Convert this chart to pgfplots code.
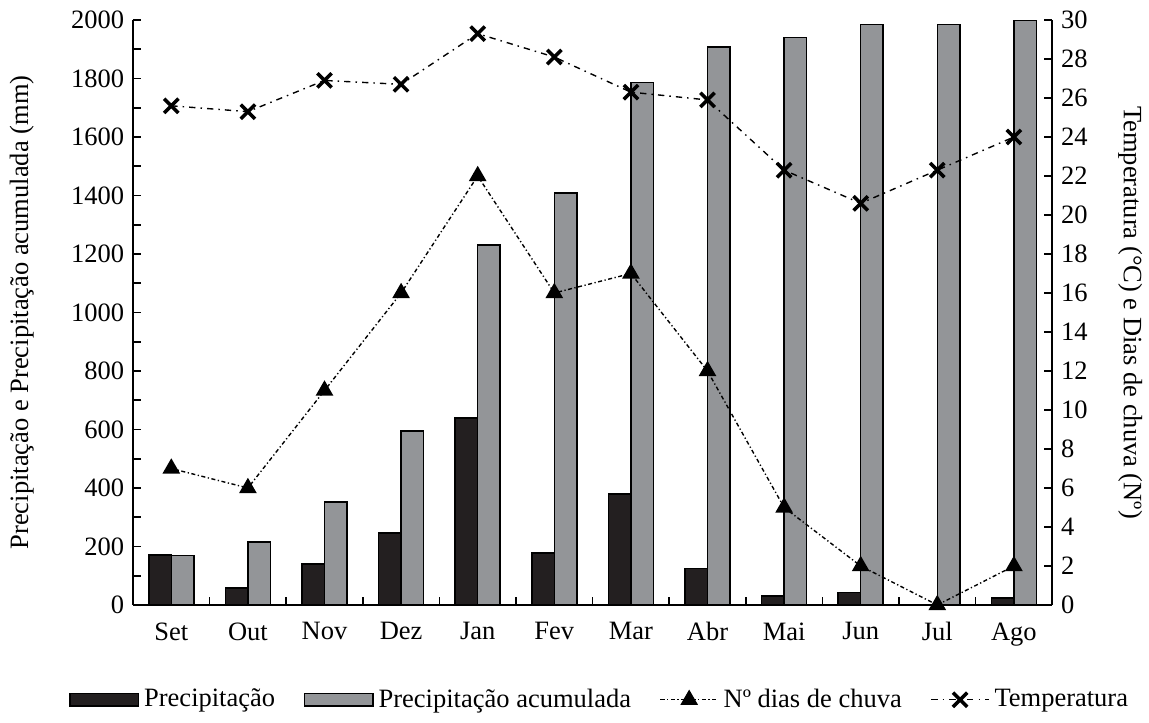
\documentclass[border=0pt]{standalone}
\usepackage{fontspec}
\setmainfont{Liberation Serif}
\usepackage{pgfplots}
\pgfplotsset{compat=1.18}

\definecolor{barblack}{HTML}{231F20}
\definecolor{bargray}{HTML}{939598}

\pgfplotsset{
  barlegend/.style={legend image code/.code={\draw[##1] (0cm,-0.085cm) rectangle (0.95cm,0.085cm);}},
  linelegend/.style={legend image code/.code={\draw[mark repeat=2,mark phase=2,##1] plot coordinates {(0cm,0cm) (0.4cm,0cm) (0.8cm,0cm)};}},
  every axis/.append style={
    scale only axis, width=12.80cm, height=8.146cm,
    at={(0,0)}, anchor=south west,
    xmin=-0.5, xmax=11.5,
    major tick length=0.11cm, minor tick length=0.11cm,
    axis line style={line width=0.8pt},
    tick style={line width=0.7pt, black},
    tick label style={font=\fontsize{10.5}{12}\selectfont},
    label style={font=\fontsize{10.5}{12}\selectfont},
    /pgf/number format/assume math mode=true,
    /pgf/number format/1000 sep={},
  },
}

\begin{document}
\begin{tikzpicture}

% left axis: monthly and accumulated rainfall (mm)
\begin{axis}[
  axis x line*=bottom, axis y line*=left,
  tick align=inside,
  ymin=0, ymax=2000,
  ytick={0,200,...,2000}, minor ytick={100,300,...,1900},
  xtick={0,...,11},
  xticklabels={Set,Out,Nov,Dez,Jan,Fev,Mar,Abr,Mai,Jun,Jul,Ago},
  xticklabel style={yshift=-0.12cm},
  major x tick style={draw=none},
  minor xtick={0.5,1.5,...,10.5},
  ylabel={Precipitação e Precipitação acumulada (mm)},
  ylabel style={at={(axis description cs:-0.121,0.5)}, anchor=center},
]
\addplot[ybar, bar width=0.294, bar shift=-0.147, fill=barblack, draw=black, line width=0.6pt]
  coordinates {(0,171) (1,58) (2,140) (3,246) (4,639) (5,178) (6,380) (7,124) (8,30) (9,43) (10,0) (11,24)};
\addplot[ybar, bar width=0.294, bar shift=0.147, fill=bargray, draw=black, line width=0.6pt]
  coordinates {(0,170) (1,215) (2,352) (3,595) (4,1230) (5,1408) (6,1787) (7,1907) (8,1941) (9,1984) (10,1984) (11,2000)};
\end{axis}

% right axis: temperature and rainy days
\begin{axis}[
  axis y line*=right, axis x line=none,
  tick align=inside,
  ymin=0, ymax=30, ytick={0,2,...,30},
  ylabel={Temperatura (°C) e Dias de chuva (Nº)},
  ylabel style={at={(axis description cs:1.085,0.5)}, anchor=center, rotate=180},
  clip=false,
  legend columns=4,
  legend style={at={(axis description cs:-0.078,-0.162)}, anchor=west, draw=none,
    font=\fontsize{10.5}{12}\selectfont,
    /tikz/every even column/.append style={column sep=0.33cm}},
]
\addlegendimage{barlegend, fill=barblack, draw=black, line width=0.6pt}
\addlegendentry{Precipitação}
\addlegendimage{barlegend, fill=bargray, draw=black, line width=0.6pt}
\addlegendentry{Precipitação acumulada}
\addplot[black, line width=0.55pt, dash pattern=on 1.6pt off 1pt on 0.5pt off 1pt,
  mark=triangle*, mark size=3.5pt, mark options={solid}, linelegend]
  coordinates {(0,7) (1,6) (2,11) (3,16) (4,22) (5,16) (6,17) (7,12) (8,5) (9,2) (10,0) (11,2)};
\addlegendentry{Nº dias de chuva}
\addplot[black, line width=0.55pt, dash pattern=on 2.5pt off 2pt on 0.6pt off 2pt,
  mark=x, mark size=4pt, mark options={solid, line width=1.4pt}, linelegend]
  coordinates {(0,25.6) (1,25.3) (2,26.9) (3,26.7) (4,29.3) (5,28.1) (6,26.3) (7,25.9) (8,22.3) (9,20.6) (10,22.3) (11,24.0)};
\addlegendentry{Temperatura}
\end{axis}

\pgfresetboundingbox
\path[use as bounding box] (-1.852cm,-1.643cm) rectangle (14.148cm,8.4245cm);
\end{tikzpicture}
\end{document}
